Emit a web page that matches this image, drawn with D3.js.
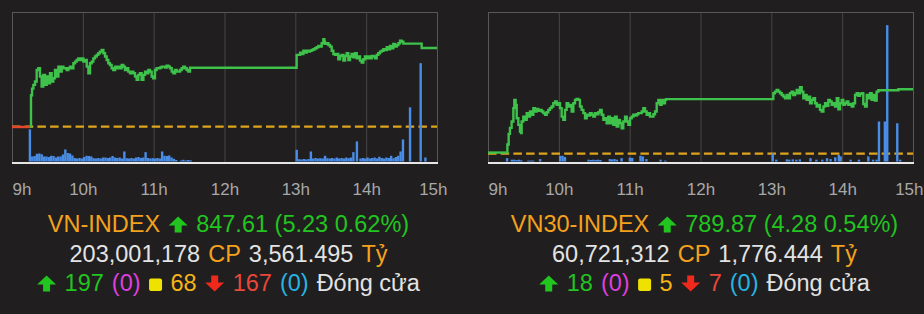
<!DOCTYPE html>
<html>
<head>
<meta charset="utf-8">
<script src="https://cdn.jsdelivr.net/npm/d3@7"></script>
<style>
  html, body { margin: 0; padding: 0; background: #201e1f; }
  svg { display: block; }
  text { font-family: "Liberation Sans", Arial, Helvetica, sans-serif; }
</style>
</head>
<body>
<svg id="board" width="924" height="314"></svg>
<script>

// time axis, in minutes after 9:00
const hourTicks = [0, 60, 120, 180, 240, 300, 360];
const hourLabels = ["9h", "10h", "11h", "12h", "13h", "14h", "15h"];

/*
    VN-INDEX
 */
const vnReference = 842.38;
const vnPreOpen = [[0, 842.36], [15.5, 842.36]];
const vnLine = [
  [15.5,842.38],[16.1,844.47],[17.0,844.91],[18.1,845.16],[19.5,845.38],[20.9,846.15],[22.3,846.26],[23.7,845.71],
  [25.1,845.05],[26.5,845.82],[28.0,845.16],[29.4,845.71],[30.8,845.27],[32.2,845.93],[33.6,845.38],[35.0,845.60],
  [36.4,846.15],[37.8,845.71],[39.3,846.37],[40.7,846.04],[42.1,846.37],[43.5,846.26],[44.9,846.26],[46.3,846.15],
  [47.7,846.26],[49.1,846.37],[50.5,846.26],[52.0,846.59],[53.4,846.70],[54.8,846.81],[56.2,846.92],[57.6,846.81],
  [59.0,846.92],[60.4,846.70],[61.8,846.81],[63.3,846.37],[64.7,845.93],[66.1,846.59],[67.5,846.70],[68.9,846.92],
  [70.3,847.04],[71.7,847.15],[73.1,847.26],[74.5,847.37],[76.0,847.48],[77.4,847.26],[78.8,847.04],[80.2,846.81],
  [81.6,846.59],[83.0,846.48],[84.4,846.26],[85.8,846.15],[87.3,846.37],[88.7,846.26],[90.1,846.37],[91.5,846.26],
  [92.9,846.48],[94.3,846.37],[95.7,846.15],[97.1,846.26],[98.5,846.04],[100.0,845.93],[101.4,846.04],[102.8,845.93],
  [104.2,845.71],[105.6,845.49],[107.0,845.82],[108.4,845.93],[109.8,845.49],[111.3,845.82],[112.7,846.04],[114.1,845.93],
  [115.5,846.15],[116.9,846.04],[118.3,845.71],[119.7,845.60],[121.1,846.15],[122.5,846.26],[124.0,846.26],[125.4,846.31],
  [126.8,846.37],[128.2,846.37],[129.6,846.31],[131.0,846.44],[132.4,846.37],[133.8,846.26],[135.3,846.04],[136.7,845.93],
  [138.1,846.15],[139.5,846.04],[140.9,846.04],[142.3,846.15],[143.7,846.26],[145.1,846.37],[146.5,846.26],[148.0,846.15],
  [149.4,846.04],[150.8,846.30],
  [241.1,847.15],[244.0,847.30],[245.4,847.21],[246.8,847.43],[248.2,847.30],[249.6,847.43],[251.0,847.37],[252.4,847.43],
  [253.8,847.48],[255.3,847.52],[256.7,847.59],[258.1,847.66],[259.5,847.74],[260.9,847.70],[262.3,847.92],[263.7,848.19],
  [264.6,848.03],[265.1,847.88],[266.6,847.92],[268.0,847.81],[269.4,847.70],[270.8,847.43],[272.2,847.21],[273.6,847.15],
  [275.0,847.21],[276.4,846.86],[277.9,847.08],[279.3,847.15],[280.7,846.77],[282.1,847.08],[283.5,847.26],[284.9,846.81],
  [286.3,847.04],[287.7,847.21],[289.1,846.99],[290.6,847.26],[292.0,846.93],[293.4,847.04],[294.8,846.77],[296.2,846.64],
  [297.6,846.86],[299.0,847.04],[300.4,846.93],[301.9,847.04],[303.3,846.93],[304.7,847.08],[306.1,847.04],[307.5,846.93],
  [308.9,847.15],[310.3,847.26],[311.7,847.37],[313.1,847.43],[314.6,847.52],[316.0,847.48],[317.4,847.66],[318.8,847.52],
  [320.2,847.74],[321.6,847.59],[323.0,847.88],[324.4,847.70],[325.9,847.81],[327.3,847.92],[328.7,848.10],[330.1,848.03],
  [331.5,847.90],[347.0,847.61],[360,847.61]
];
// millions of shares per 2 minutes
const vnVolume = [
  [15,3.2],[17,0.5],[19,0.55],[21,0.77],[23,0.8],[25,0.72],[27,0.5],[29,0.5],[31,0.45],[33,0.57],[35,0.55],[37,0.4],
  [39,0.5],[41,0.5],[43,0.7],[45,1.2],[47,0.85],[49,0.8],[51,0.6],[53,0.35],[55,0.3],[57,0.35],[59,0.3],[61,0.45],
  [63,0.57],[65,0.55],[67,0.5],[69,0.33],[71,0.3],[73,0.35],[75,0.3],[77,0.4],[79,0.4],[81,0.35],[83,0.4],[85,0.55],
  [87,0.4],[89,0.35],[91,0.4],[93,0.3],[95,1.0],[97,0.33],[99,0.3],[101,0.35],[103,0.3],[105,0.4],[107,0.45],[109,0.35],
  [111,0.4],[113,0.93],[115,0.35],[117,0.3],[119,0.33],[121,0.3],[123,0.35],[125,0.3],[127,1.0],[129,0.57],[131,0.55],
  [133,0.6],[135,0.4],[137,0.27],[139,0.15],[143,0.1],[145,0.17],[147,0.1],[149,0.15],[151,0.12],
  [241,1.17],[243,0.23],[245,0.2],[247,0.25],[249,0.2],[251,0.25],[253,1.0],[255,0.3],[257,0.35],[259,0.3],[261,0.33],
  [263,0.3],[265,0.57],[267,0.33],[269,0.3],[271,0.35],[273,0.3],[275,0.4],[277,0.3],[279,0.35],[281,0.3],[283,0.4],
  [285,0.33],[287,0.4],[289,0.93],[292,2.0],[295,0.3],[297,0.35],[299,0.3],[301,0.4],[303,0.3],[305,0.35],[307,0.4],
  [309,0.3],[311,0.47],[313,0.35],[315,0.3],[317,0.4],[319,0.35],[321,0.57],[323,0.33],[325,0.45],[327,0.57],[329,1.0],
  [331,2.2],[337,5.4],[346,9.8],[350,0.4]
];
const vnHeadline = ["VN-INDEX", "847.61 (5.23 0.62%)"];
const vnTurnover = ["203,001,178", "CP", "3,561.495", "Tỷ"];
const vnBreadth = ["197", "(0)", "68", "167", "(0)", "Đóng cửa"];

/*
    VN30-INDEX
 */
const vn30Reference = 785.59;
const vn30PreOpen = [[0, 785.66], [15.8, 785.66]];
const vn30Line = [
  [15.8,785.66],[16.4,786.2],[17.5,786.9],[18.6,787.3],[20.0,787.72],[21.5,788.61],[22.3,789.16],[23.4,788.83],
  [24.3,787.94],[25.7,787.50],[27.1,787.06],[28.0,786.95],[28.5,787.72],[29.9,788.05],[31.3,787.83],[32.8,788.28],
  [34.2,788.05],[35.6,788.39],[37.0,788.17],[38.4,788.61],[39.8,788.39],[41.2,788.56],[42.6,788.43],[44.0,788.50],
  [45.5,788.39],[46.9,788.28],[48.3,788.17],[49.7,788.34],[51.1,788.50],[52.5,788.61],[53.9,788.72],[55.3,788.94],
  [56.8,789.05],[58.2,788.83],[59.6,788.94],[61.0,788.61],[62.4,788.05],[63.8,787.83],[65.2,788.50],[66.6,788.94],
  [68.0,788.72],[69.5,788.83],[70.9,788.39],[72.3,788.94],[73.7,789.16],[75.1,789.23],[76.5,789.16],[77.9,788.72],
  [79.3,788.50],[80.8,788.28],[82.2,787.94],[83.6,788.17],[85.0,788.12],[86.4,788.28],[87.8,788.17],[89.2,788.05],
  [90.6,788.28],[92.1,788.21],[93.5,788.34],[94.9,788.50],[96.3,788.17],[97.7,787.83],[99.1,787.94],[100.5,787.61],
  [101.9,788.05],[103.3,787.61],[104.8,787.94],[106.2,787.50],[107.6,788.05],[109.0,787.39],[110.4,787.83],[111.8,787.61],
  [113.2,787.28],[114.6,787.72],[116.1,788.05],[117.5,787.72],[118.9,787.50],[120.3,787.94],[121.7,788.05],[123.1,788.17],
  [124.5,788.12],[125.9,788.21],[127.3,788.28],[128.8,788.28],[130.2,788.39],[131.6,788.61],[133.0,788.39],[134.4,788.17],
  [135.8,788.28],[137.2,788.05],[138.6,788.05],[140.1,788.21],[141.5,788.39],[142.9,788.94],[144.3,789.16],[145.7,788.83],
  [147.1,789.16],[148.5,788.94],[149.9,789.16],[150.8,789.21],
  [241.7,789.60],[243.1,789.71],[244.5,789.82],[245.9,789.71],[247.4,789.60],[248.8,789.49],[250.2,789.38],[251.6,789.27],
  [253.0,789.49],[254.4,789.27],[255.8,789.60],[257.2,789.71],[258.6,789.49],[260.1,789.60],[261.5,789.82],[262.9,789.60],
  [264.3,790.00],[265.7,789.71],[267.1,789.27],[268.5,789.49],[269.9,789.16],[271.4,789.38],[272.8,788.94],[274.2,789.16],
  [275.6,789.27],[277.0,788.94],[278.4,788.72],[279.8,788.83],[281.2,788.50],[282.6,788.39],[284.1,788.72],[285.5,788.94],
  [286.9,788.76],[288.3,789.16],[289.7,789.05],[291.1,788.83],[292.5,788.94],[293.9,788.72],[295.4,789.27],[296.8,788.54],
  [298.2,788.94],[299.6,789.16],[301.0,788.83],[302.4,788.94],[303.8,789.05],[305.2,788.83],[306.7,788.89],[308.1,788.72],
  [309.5,788.94],[310.9,789.49],[312.3,789.60],[313.7,789.43],[315.1,789.56],[316.5,789.60],[317.9,788.89],[319.4,788.72],
  [320.8,789.49],[322.2,789.27],[323.6,789.60],[325.0,789.16],[326.4,789.49],[327.8,789.12],[329.2,789.71],[330.7,789.80],
  [347.6,789.87],[360,789.87]
];
const vn30Volume = [
  [16,0.11],[20,0.06],[22,0.06],[24,0.05],[26,0.06],[28,0.04],[34,0.03],[36,0.03],[38,0.03],[44,0.08],[61,0.19],
  [63,0.19],[65,0.15],[85,0.06],[87,0.05],[89,0.06],[91,0.05],[93,0.06],[95,0.05],[103,0.08],[105,0.07],[107,0.08],
  [109,0.06],[113,0.11],[120,0.13],[122,0.12],[129,0.19],[131,0.17],[134,0.08],[146,0.06],[150,0.03],
  [241,0.27],[244,0.06],[253,0.07],[255,0.06],[258,0.07],[261,0.06],[264,0.07],[273,0.11],[278,0.06],[283,0.06],
  [287,0.11],[290,0.08],[294,0.14],[297,0.22],[298.5,0.17],[307,0.06],[314,0.06],[322,0.17],[326,0.06],[329,0.06],
  [331,1.33],[336,1.33],[338,4.53],[346.5,1.27],[349,0.06]
];
const vn30Headline = ["VN30-INDEX", "789.87 (4.28 0.54%)"];
const vn30Turnover = ["60,721,312", "CP", "1,776.444", "Tỷ"];
const vn30Breadth = ["18", "(0)", "5", "7", "(0)", "Đóng cửa"];


const C = {
  frame: "#585858", grid: "#474747", base: "#e6e6e6", line: "#3fc24b", fall: "#e5472c",
  ref: "#dea41c", vol: "#4a8de6", tick: "#a8a8a8", orange: "#f4a11d", green: "#22c420",
  white: "#e3e3e3", magenta: "#df3fdf", yellow: "#f0e200", amber: "#f5b417", red: "#e9473a",
  redArrow: "#f0291c", cyan: "#26b5e3"
};

const TOP = 12, BOTTOM = 162.5, WIDTH = 425;

/*
    One index panel : intraday chart plus the three summary rows
 */
class IndexPanel {

  constructor(svg, left, cfg) {
    this.cfg = cfg;
    this.left = left;
    this.g = svg.append("g");
    this.x = d3.scaleLinear().domain([0, 360]).range([left, left + WIDTH]);
    this.y = d3.scaleLinear().domain(cfg.yDomain).range([BOTTOM, TOP]);
    this.yVol = d3.scaleLinear().domain([0, cfg.volMax]).range([BOTTOM - 1, TOP - 1]);

    this.drawFrame();
    this.drawReference();
    this.drawVolume();
    this.drawPrice();
    this.drawAxis();
    this.drawSummary();
  }

  drawFrame() {
    this.g.selectAll("line.grid")
      .data(hourTicks.slice(1, -1))
      .enter().append("line")
        .attr("class", "grid")
        .attr("x1", d => this.x(d) + 0.5).attr("x2", d => this.x(d) + 0.5)
        .attr("y1", TOP).attr("y2", BOTTOM)
        .attr("stroke", C.grid).attr("stroke-width", 1);

    this.g.append("rect")
      .attr("x", this.x(0) + 0.5).attr("y", TOP + 0.5)
      .attr("width", WIDTH).attr("height", BOTTOM - TOP)
      .attr("fill", "none").attr("stroke", C.frame).attr("stroke-width", 1);
  }

  drawReference() {
    this.g.append("line")
      .attr("x1", this.x(0)).attr("x2", this.x(360))
      .attr("y1", this.y(this.cfg.ref)).attr("y2", this.y(this.cfg.ref))
      .attr("stroke", C.ref).attr("stroke-width", 2.2)
      .attr("stroke-dasharray", "8.5,4.2");
  }

  drawVolume() {
    this.g.selectAll("rect.vol")
      .data(this.cfg.volume)
      .enter().append("rect")
        .attr("class", "vol")
        .attr("x", d => this.x(d[0]) - 1)
        .attr("width", 2.4)
        .attr("y", d => this.yVol(d[1]))
        .attr("height", d => BOTTOM - 1 - this.yVol(d[1]))
        .attr("fill", C.vol);

    // white base line
    this.g.append("line")
      .attr("x1", this.x(0)).attr("x2", this.x(360) + 1)
      .attr("y1", BOTTOM + 0.5).attr("y2", BOTTOM + 0.5)
      .attr("stroke", C.base).attr("stroke-width", 2);
  }

  drawPrice() {
    const line = d3.line()
      .x(d => this.x(d[0]))
      .y(d => this.y(d[1]))
      .curve(d3.curveStepAfter);

    const pre = this.cfg.pre;
    this.g.append("path")
      .attr("d", line(pre))
      .attr("fill", "none")
      .attr("stroke", pre[0][1] < this.cfg.ref ? C.fall : C.line)
      .attr("stroke-width", 2.4);

    this.g.append("path")
      .attr("d", line(this.cfg.line))
      .attr("fill", "none")
      .attr("stroke", C.line)
      .attr("stroke-width", 2.4);
  }

  drawAxis() {
    const axis = d3.axisBottom(this.x)
      .tickValues(hourTicks)
      .tickFormat((d, i) => hourLabels[i])
      .tickSize(0).tickPadding(0);

    const ag = this.g.append("g")
      .attr("transform", "translate(0,195)")
      .call(axis);
    ag.select(".domain").remove();
    ag.attr("font-size", 17).attr("font-family", null);
    ag.selectAll("text")
      .attr("y", 0).attr("dy", 0)
      .attr("fill", C.tick);
    ag.selectAll("text").filter((d, i) => i === 0).attr("text-anchor", "start");
    ag.selectAll("text").filter((d, i) => i === hourTicks.length - 1)
      .attr("text-anchor", "end").attr("x", 10);
  }

  /*
      Rows of coloured words and small icons, centred under the chart
   */
  drawSummary() {
    const h = this.cfg.headline, t = this.cfg.turnover, b = this.cfg.breadth;
    const rows = [
      { y: 232, items: [ {t: h[0], c: C.orange}, {icon: "up"}, {t: h[1], c: C.green} ] },
      { y: 261.5, items: [ {t: t[0], c: C.white}, {t: t[1], c: C.orange}, {t: t[2], c: C.white}, {t: t[3], c: C.orange} ] },
      { y: 291, items: [ {icon: "up"}, {t: b[0], c: C.green}, {t: b[1], c: C.magenta}, {icon: "square"},
                         {t: b[2], c: C.amber}, {icon: "down"}, {t: b[3], c: C.red}, {t: b[4], c: C.cyan},
                         {t: b[5], c: C.white} ] }
    ];
    const cx = this.left + WIDTH / 2 + 4;

    rows.forEach(row => {
      const rg = this.g.append("g");
      let x = 0;
      row.items.forEach((p, j) => {
        if (j > 0) x += p.icon || row.items[j - 1].icon ? 8.5 : 8;
        if (p.icon) {
          x += this.drawIcon(rg, p.icon, x, row.y);
        } else {
          const tx = rg.append("text")
            .attr("x", x).attr("y", row.y)
            .attr("font-size", 23.5)
            .attr("fill", p.c)
            .text(p.t);
          x += tx.node().getComputedTextLength();
        }
      });
      rg.attr("transform", `translate(${cx - x / 2},0)`);
    });
  }

  drawIcon(g, kind, x, b) {
    if (kind === "square") {
      g.append("rect")
        .attr("x", x).attr("y", b - 12.5).attr("width", 13).attr("height", 12.5)
        .attr("rx", 2).attr("fill", C.yellow);
      return 13;
    }
    const w = 19, hh = 16, head = 9;
    let pts;
    if (kind === "up") {
      pts = [[w / 2, -hh], [w, -hh + head], [13, -hh + head], [13, 0], [6, 0], [6, -hh + head], [0, -hh + head]];
    } else {
      pts = [[6, -hh], [13, -hh], [13, -hh + 7], [w, -hh + 7], [w / 2, 0], [0, -hh + 7], [6, -hh + 7]];
    }
    g.append("path")
      .attr("d", "M" + pts.map(p => (x + p[0]) + "," + (b + 0.5 + p[1])).join("L") + "Z")
      .attr("fill", kind === "up" ? C.green : C.redArrow);
    return w;
  }
}

const svg = d3.select("#board");

new IndexPanel(svg, 12, {
  yDomain: [840, 850], volMax: 15, ref: vnReference, pre: vnPreOpen, line: vnLine, volume: vnVolume,
  headline: vnHeadline, turnover: vnTurnover, breadth: vnBreadth
});

new IndexPanel(svg, 488, {
  yDomain: [785, 795], volMax: 5, ref: vn30Reference, pre: vn30PreOpen, line: vn30Line, volume: vn30Volume,
  headline: vn30Headline, turnover: vn30Turnover, breadth: vn30Breadth
});

</script>
</body>
</html>
